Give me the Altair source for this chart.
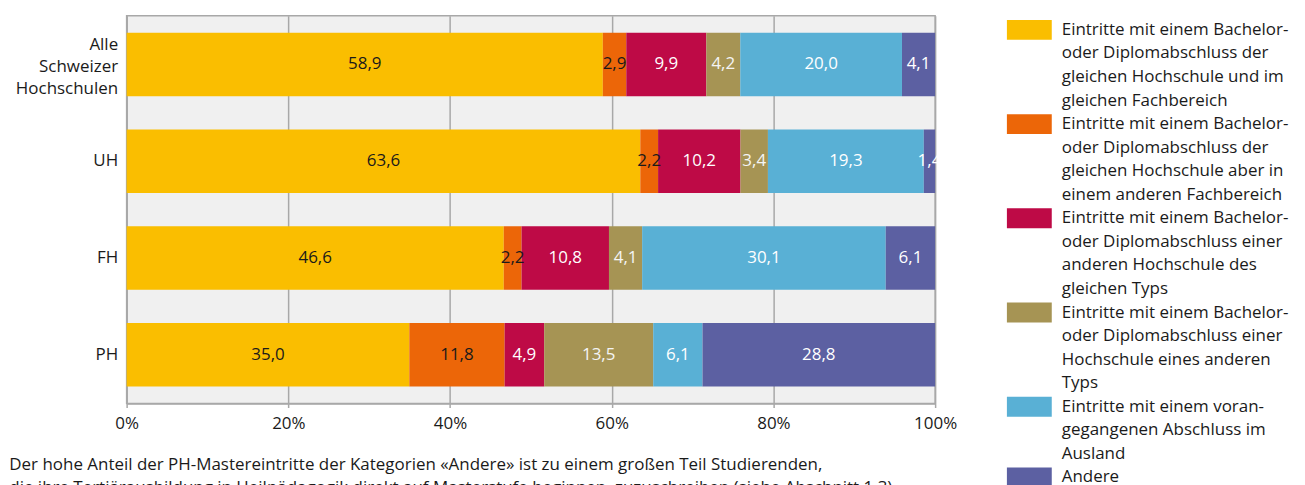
import altair as alt
import pandas as pd

# ---------------- data ----------------
categories = ["Alle Schweizer Hochschulen", "UH", "FH", "PH"]
series_keys = ["gleiche HS, gleicher FB", "gleiche HS, anderer FB", "andere HS gleichen Typs",
               "HS anderen Typs", "Ausland", "Andere"]
values_alle = [58.9, 2.9, 9.9, 4.2, 20.0, 4.1]
values_uh = [63.6, 2.2, 10.2, 3.4, 19.3, 1.4]
values_fh = [46.6, 2.2, 10.8, 4.1, 30.1, 6.1]
values_ph = [35.0, 11.8, 4.9, 13.5, 6.1, 28.8]
legend_lines = [
    ["Eintritte mit einem Bachelor-", "oder Diplomabschluss der", "gleichen Hochschule und im", "gleichen Fachbereich"],
    ["Eintritte mit einem Bachelor-", "oder Diplomabschluss der", "gleichen Hochschule aber in", "einem anderen Fachbereich"],
    ["Eintritte mit einem Bachelor-", "oder Diplomabschluss einer", "anderen Hochschule des", "gleichen Typs"],
    ["Eintritte mit einem Bachelor-", "oder Diplomabschluss einer", "Hochschule eines anderen", "Typs"],
    ["Eintritte mit einem voran-", "gegangenen Abschluss im", "Ausland"],
    ["Andere"],
]
footnote = [
    "Der hohe Anteil der PH-Mastereintritte der Kategorien «Andere» ist zu einem großen Teil Studierenden,",
    "die ihre Tertiärausbildung in Heilpädagogik direkt auf Masterstufe beginnen, zuzuschreiben (siehe Abschnitt 1.3).",
]
colors = ["#FABE00", "#EC6608", "#BE0A46", "#A69454", "#59B0D5", "#5C60A2"]
label_colors = ["#1a1a1a", "#1a1a1a", "#ffffff", "#f4f4f4", "#ffffff", "#ffffff"]

FONT = "Open Sans"
TXT = "#1a1a1a"
GRID = "#a8a8a8"
FS = 17

rows = []
for cat, vals in zip(categories, [values_alle, values_uh, values_fh, values_ph]):
    for i, v in enumerate(vals):
        rows.append({"cat": cat, "series": series_keys[i], "order": i, "value": v,
                     "tcolor": label_colors[i]})
df = pd.DataFrame(rows)

base = alt.Chart(df).transform_stack(
    stack="value", groupby=["cat"], as_=["x0", "x1"], offset="normalize",
    sort=[alt.SortField("order", order="ascending")]
).transform_calculate(
    mid="(datum.x0 + datum.x1) / 2",
    label="replace(format(datum.value, '.1f'), '.', ',')",
)

yenc = alt.Y("cat:N", sort=categories,
             scale=alt.Scale(paddingInner=0.342, paddingOuter=0.175),
             axis=alt.Axis(title=None, ticks=False, domain=True, domainColor=GRID, domainWidth=1.5,
                           labelExpr="split(datum.label, ' ')", labelLineHeight=22.5,
                           labelOffset={"condition": {"test": "indexof(datum.value, ' ') >= 0",
                                                      "value": -20}, "value": 0},
                           labelFont=FONT, labelFontSize=FS, labelColor=TXT, labelPadding=9))

bars = base.mark_bar().encode(
    x=alt.X("x0:Q", scale=alt.Scale(domain=[0, 1], nice=False),
            axis=alt.Axis(title=None, format="%", values=[0, 0.2, 0.4, 0.6, 0.8, 1.0],
                          grid=True, gridColor=GRID, gridWidth=1.5, labelFlush=False,
                          domainColor=GRID, domainWidth=1.5, tickColor=GRID, tickWidth=1.5,
                          tickSize=4, labelFont=FONT, labelFontSize=FS, labelColor=TXT,
                          labelPadding=8)),
    x2="x1:Q",
    y=yenc,
    color=alt.Color("series:N", scale=alt.Scale(domain=series_keys, range=colors), legend=None),
)

texts = base.mark_text(font=FONT, fontSize=FS, baseline="middle", align="center").encode(
    x="mid:Q",
    y=alt.Y("cat:N", sort=categories),
    text="label:N",
    color=alt.Color("tcolor:N", scale=None),
)

main = alt.layer(bars, texts).properties(
    width=811, height=389,
    view=alt.ViewBackground(fill="#f0f0f0", stroke=GRID, strokeWidth=1.5),
    title=alt.TitleParams(text=footnote, orient="bottom", anchor="start", frame="bounds",
                          font=FONT, fontSize=FS, fontWeight="normal", color=TXT,
                          lineHeight=23, offset=26, dx=-6),
)

# ---------------- legend panel ----------------
lrows, srows = [], []
idx = 0
for i, lines in enumerate(legend_lines):
    srows.append({"series": series_keys[i], "line": idx})
    for t in lines:
        lrows.append({"line": idx, "text": t})
        idx += 1
ldf = pd.DataFrame(lrows)
sdf = pd.DataFrame(srows)

yscale = alt.Scale(domain=[-0.6, idx - 0.4], nice=False, zero=False, reverse=True)

swatches = alt.Chart(sdf).transform_calculate(
    y0="datum.line - 0.423", y1="datum.line + 0.423"
).mark_rect().encode(
    x=alt.value(0), x2=alt.value(45),
    y=alt.Y("y0:Q", scale=yscale, axis=None), y2="y1:Q",
    color=alt.Color("series:N", scale=alt.Scale(domain=series_keys, range=colors), legend=None),
)
ltext = alt.Chart(ldf).mark_text(font=FONT, fontSize=FS, align="left", baseline="middle",
                                 color=TXT).encode(
    x=alt.value(55),
    y=alt.Y("line:Q", scale=yscale, axis=None),
    text="text:N",
)
legend = alt.layer(swatches, ltext).properties(
    width=290, height=(idx - 0.4 + 0.6) * 23.63,
    view=alt.ViewBackground(stroke="transparent"),
)

chart = alt.hconcat(main, legend, spacing=48).properties(
    padding={"left": 0, "top": 6, "right": 0, "bottom": 0}
).configure_view(stroke="transparent")

chart.save("out.html", embed_options={"renderer": "svg", "actions": False})
